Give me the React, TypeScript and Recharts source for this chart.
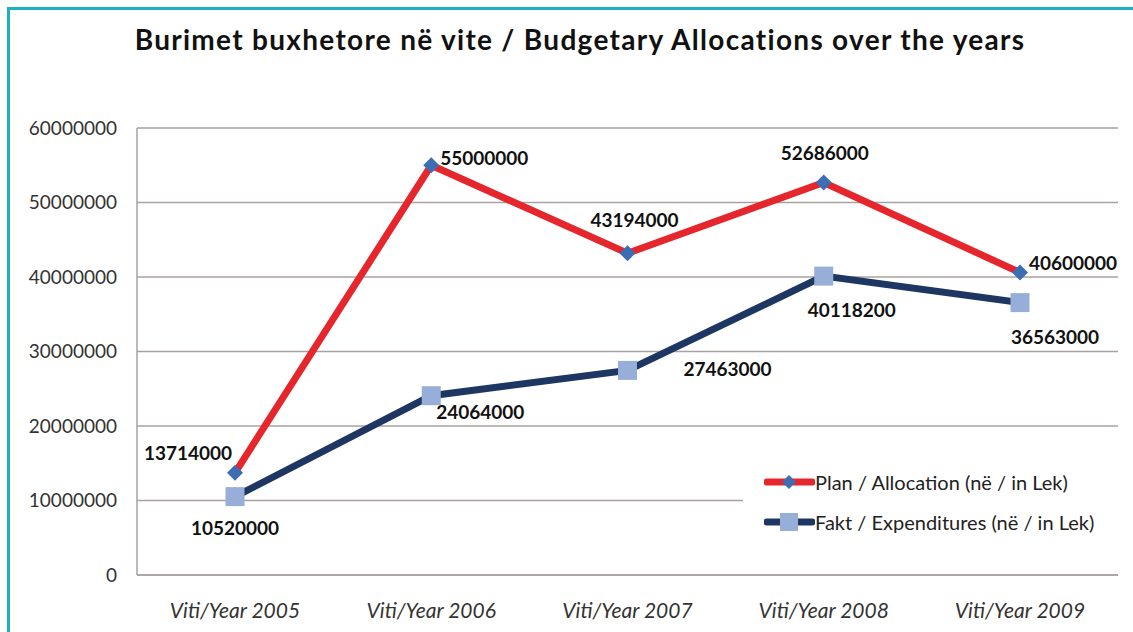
import React from "react";
import {
  LineChart,
  Line,
  XAxis,
  YAxis,
  CartesianGrid,
  LabelList,
} from "recharts";

const years = [
  "Viti/Year 2005",
  "Viti/Year 2006",
  "Viti/Year 2007",
  "Viti/Year 2008",
  "Viti/Year 2009",
];
const plan = [13714000, 55000000, 43194000, 52686000, 40600000];
const fakt = [10520000, 24064000, 27463000, 40118200, 36563000];
const yTicks = [0, 10000000, 20000000, 30000000, 40000000, 50000000, 60000000];

// where each value label sits relative to its point (px)
const planLabelOffset = [
  [-47, -20],
  [53, -8],
  [7, -34],
  [1, -30],
  [53, -10],
];
const faktLabelOffset = [
  [0, 31],
  [49, 16],
  [100, -2],
  [28, 33],
  [35, 34],
];

const data = years.map((year, i) => ({ year, plan: plan[i], fakt: fakt[i] }));

const FONT = "Lato, 'Open Sans', sans-serif";
const RED = "#e5262c";
const NAVY = "#1d3762";
const DIAMOND = "#3d6db3";
const SQUARE = "#97afd8";

const Diamond = (props: any) => {
  const { cx, cy } = props;
  if (cx == null || cy == null) return null;
  const r = 8;
  return (
    <polygon
      key={`d-${cx}`}
      points={`${cx},${cy - r} ${cx + r},${cy} ${cx},${cy + r} ${cx - r},${cy}`}
      fill={DIAMOND}
    />
  );
};

const Square = (props: any) => {
  const { cx, cy } = props;
  if (cx == null || cy == null) return null;
  const s = 19;
  return (
    <rect
      key={`s-${cx}`}
      x={cx - s / 2}
      y={cy - s / 2}
      width={s}
      height={s}
      fill={SQUARE}
    />
  );
};

const makeLabel = (offsets: number[][]) => (props: any) => {
  const { x, y, value, index } = props;
  const [dx, dy] = offsets[index];
  return (
    <text
      x={x + dx}
      y={y + dy}
      textAnchor="middle"
      dominantBaseline="central"
      fontFamily={FONT}
      fontWeight="bold"
      fontSize={19}
      fill="#111"
    >
      {value}
    </text>
  );
};

const legendItems = [
  { name: "Plan / Allocation (në / in Lek)", color: RED, mark: "d" },
  { name: "Fakt / Expenditures (në / in Lek)", color: NAVY, mark: "s" },
];

const LegendBox = () => (
  <div
    style={{
      position: "absolute",
      left: 743,
      top: 445,
      width: 376,
      height: 110,
      background: "#fff",
      boxSizing: "border-box",
      paddingLeft: 21,
      paddingTop: 17,
      fontFamily: FONT,
      fontSize: 20,
      color: "#222",
    }}
  >
    {legendItems.map((it) => (
      <div
        key={it.name}
        style={{ display: "flex", alignItems: "center", height: 40 }}
      >
        <svg width={51} height={22}>
          <line
            x1={3}
            y1={11}
            x2={48}
            y2={11}
            stroke={it.color}
            strokeWidth={7}
            strokeLinecap="round"
          />
          {it.mark === "d" ? (
            <polygon points="25,4 32,11 25,18 18,11" fill={DIAMOND} />
          ) : (
            <rect x={16} y={2} width={18} height={18} fill={SQUARE} />
          )}
        </svg>
        <span>{it.name}</span>
      </div>
    ))}
  </div>
);

export default function App() {
  return (
    <div
      style={{
        position: "absolute",
        left: 0,
        top: 0,
        width: 1133,
        height: 632,
        overflow: "hidden",
        background: "#fff",
      }}
    >
      <div
        style={{
          position: "absolute",
          left: 7,
          top: 7,
          width: 1200,
          height: 700,
          border: "3px solid #1db2bd",
        }}
      />
      <div
        style={{
          position: "absolute",
          left: 0,
          top: 22,
          width: 1160,
          textAlign: "center",
          fontFamily: FONT,
          fontWeight: "bold",
          fontSize: 28,
          letterSpacing: 1.3,
          color: "#111",
        }}
      >
        Burimet buxhetore në vite / Budgetary Allocations over the years
      </div>
      <div style={{ position: "absolute", left: 0, top: 0 }}>
        <LineChart
          width={1133}
          height={632}
          data={data}
          margin={{ top: 128, right: 15, bottom: 0, left: 0 }}
        >
          <CartesianGrid
            vertical={false}
            stroke="#a9a1a1"
            strokeWidth={1.5}
          />
          <XAxis
            dataKey="year"
            height={57}
            padding={{ left: 98, right: 98 }}
            tickLine={false}
            axisLine={{ stroke: "#a9a1a1", strokeWidth: 1.5 }}
            tickMargin={22}
            tick={{
              fontFamily: FONT,
              fontSize: 21,
              fontStyle: "italic",
              fill: "#333",
            }}
          />
          <YAxis
            width={137}
            domain={[0, 60000000]}
            ticks={yTicks}
            interval={0}
            tickLine={false}
            tickSize={0}
            tickMargin={20}
            axisLine={{ stroke: "#a9a1a1", strokeWidth: 1.5 }}
            tick={{ fontFamily: FONT, fontSize: 19, fill: "#333" }}
          />
          <Line
            dataKey="plan"
            name="Plan / Allocation (në / in Lek)"
            stroke={RED}
            strokeWidth={7}
            dot={Diamond}
            activeDot={false}
            isAnimationActive={false}
          >
            <LabelList dataKey="plan" content={makeLabel(planLabelOffset)} />
          </Line>
          <Line
            dataKey="fakt"
            name="Fakt / Expenditures (në / in Lek)"
            stroke={NAVY}
            strokeWidth={7}
            dot={Square}
            activeDot={false}
            isAnimationActive={false}
          >
            <LabelList dataKey="fakt" content={makeLabel(faktLabelOffset)} />
          </Line>
        </LineChart>
      </div>
      <LegendBox />
    </div>
  );
}
